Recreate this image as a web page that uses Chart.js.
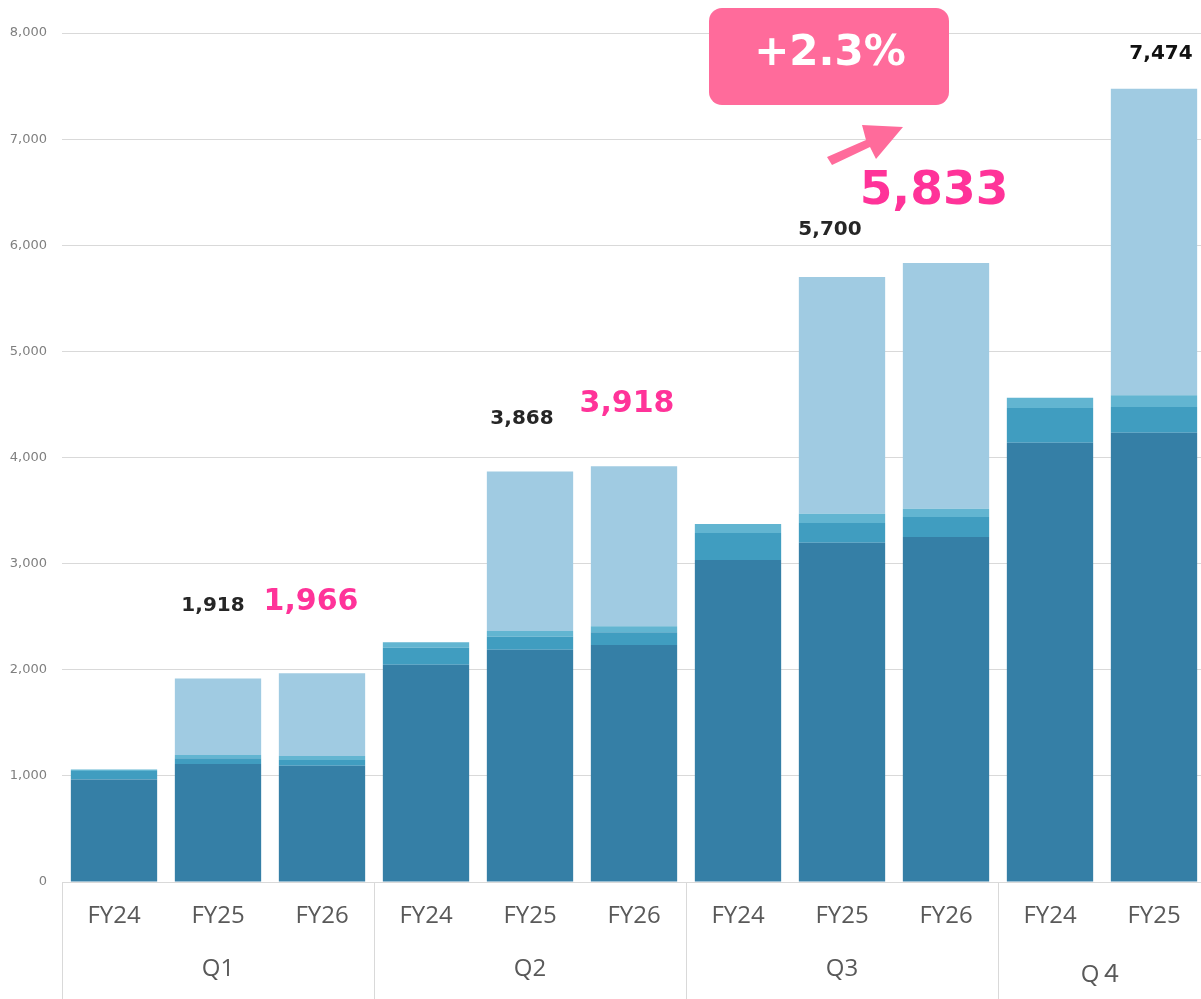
<!DOCTYPE html>
<html>
<head>
<meta charset="utf-8">
<script src="https://cdn.jsdelivr.net/npm/chart.js@4/dist/chart.umd.min.js"></script>
<style>
  html, body { margin: 0; padding: 0; background: #fff; overflow: hidden; }
  #wrap { width: 1206px; height: 999px; }
</style>
</head>
<body>
<div id="wrap"><canvas id="chartventes" width="1206" height="999"></canvas></div>
<script>
// Données du graphique
const years = ['FY24', 'FY25', 'FY26', 'FY24', 'FY25', 'FY26', 'FY24', 'FY25', 'FY26', 'FY24', 'FY25'];
const quarters = ['Q1', 'Q2', 'Q3', 'Q４'];
const quarterStart = [0, 3, 6, 9]; // premier index de chaque trimestre

const serieA = [965, 1112, 1096, 2048, 2189, 2233, 3034, 3197, 3251, 4140, 4234];
const serieB = [80, 53, 54, 160, 123, 120, 255, 186, 188, 326, 242];
const serieC = [15, 32, 37, 50, 53, 56, 84, 87, 79, 98, 110];
const serieD = [0, 721, 779, 0, 1503, 1509, 0, 2230, 2315, 0, 2888];

// étiquettes des totaux (null = pas d'étiquette)
const totalLabels = [null, '1,918', '1,966', null, '3,868', '3,918', null, '5,700', '5,833', null, '7,474'];
const yTicks = [0, 1000, 2000, 3000, 4000, 5000, 6000, 7000, 8000];
const growthText = '+2.3%';

// style des étiquettes : couleur, taille, décalage (px) par rapport au haut de la barre
const labelStyle = {
  1: { color: '#262626', size: 20, dx: -5, dy: -73 },
  2: { color: '#ff3399', size: 30, dx: -11, dy: -71 },
  4: { color: '#262626', size: 20, dx: -8, dy: -53 },
  5: { color: '#ff3399', size: 30, dx: -7, dy: -62 },
  7: { color: '#262626', size: 20, dx: -12, dy: -47 },
  8: { color: '#ff3399', size: 47, dx: -12, dy: -71 },
  10: { color: '#111111', size: 20, dx: 7, dy: -35 }
};

const gridColor = '#d9d9d9';

// Plugin pour les étiquettes, les trimestres et la flèche
const decorations = {
  id: 'decorations',
  afterDraw(chart) {
    const c = chart.ctx;
    const x = chart.scales.x;
    const y = chart.scales.y;
    const area = chart.chartArea;
    const half = (x.getPixelForValue(1) - x.getPixelForValue(0)) / 2;

    c.save();
    // libellés FY
    c.fillStyle = '#595959';
    c.font = '24px "Open Sans"';
    c.textAlign = 'center';
    c.textBaseline = 'middle';
    years.forEach((lab, i) => {
      c.fillText(lab, x.getPixelForValue(i), 916);
    });

    // séparateurs et trimestres
    c.strokeStyle = gridColor;
    c.lineWidth = 1;
    quarterStart.forEach((start, q) => {
      const end = q < quarterStart.length - 1 ? quarterStart[q + 1] - 1 : years.length - 1;
      const left = Math.round(x.getPixelForValue(start) - half) + 0.5;
      c.beginPath();
      c.moveTo(left, area.bottom);
      c.lineTo(left, chart.height);
      c.stroke();
      const mid = (x.getPixelForValue(start) + x.getPixelForValue(end)) / 2;
      c.font = '24px "Open Sans", "Noto Sans CJK JP"';
      c.fillText(quarters[q], mid, q === 3 ? 975 : 969);
    });

    // totaux au-dessus des barres
    totalLabels.forEach((txt, i) => {
      if (!txt) return;
      const st = labelStyle[i];
      const total = serieA[i] + serieB[i] + serieC[i] + serieD[i];
      c.fillStyle = st.color;
      c.font = 'bold ' + st.size + 'px "DejaVu Sans"';
      c.fillText(txt, x.getPixelForValue(i) + st.dx, y.getPixelForValue(total) + st.dy);
    });

    // encadré de croissance
    const bx = 709, by = 8, bw = 240, bh = 97;
    c.fillStyle = '#ff6b9b';
    c.beginPath();
    c.roundRect(bx, by, bw, bh, 13);
    c.fill();
    c.fillStyle = '#ffffff';
    c.font = 'bold 42px "DejaVu Sans"';
    c.fillText(growthText, bx + bw / 2 + 1, by + 46);

    // flèche
    c.fillStyle = '#ff6b9b';
    c.beginPath();
    c.moveTo(827, 157);
    c.lineTo(866, 140);
    c.lineTo(862, 125);
    c.lineTo(903, 127);
    c.lineTo(876, 159);
    c.lineTo(870, 147);
    c.lineTo(832, 165);
    c.closePath();
    c.fill();
    c.restore();
  }
};

const ctx = document.getElementById('chartventes');

new Chart(ctx, {
  type: 'bar',
  data: {
    labels: years,
    datasets: [
      { label: 'A', data: serieA, backgroundColor: '#357fa6' },
      { label: 'B', data: serieB, backgroundColor: '#409dc0' },
      { label: 'C', data: serieC, backgroundColor: '#62b5d1' },
      { label: 'D', data: serieD, backgroundColor: '#a0cbe2' }
    ]
  },
  options: {
    responsive: false,
    animation: false,
    layout: { padding: { top: 33, left: 0, right: 0, bottom: 0 } },
    datasets: { bar: { categoryPercentage: 1, barPercentage: 0.83, borderWidth: 0 } },
    plugins: { legend: { display: false }, tooltip: { enabled: false } },
    scales: {
      x: {
        stacked: true,
        grid: { display: false },
        border: { display: true, color: gridColor, width: 1 },
        ticks: { display: false },
        afterFit(scale) { scale.height = 117; }
      },
      y: {
        stacked: true,
        min: 0,
        max: 8000,
        afterBuildTicks(scale) { scale.ticks = yTicks.map(v => ({ value: v })); },
        ticks: {
          color: '#7f7f7f',
          font: { family: 'DejaVu Sans', size: 13 },
          padding: 15,
          callback: v => v.toLocaleString('en-US')
        },
        grid: { color: gridColor, drawTicks: false },
        border: { display: false },
        afterFit(scale) { scale.width = 62; }
      }
    }
  },
  plugins: [decorations]
});
</script>
</body>
</html>
